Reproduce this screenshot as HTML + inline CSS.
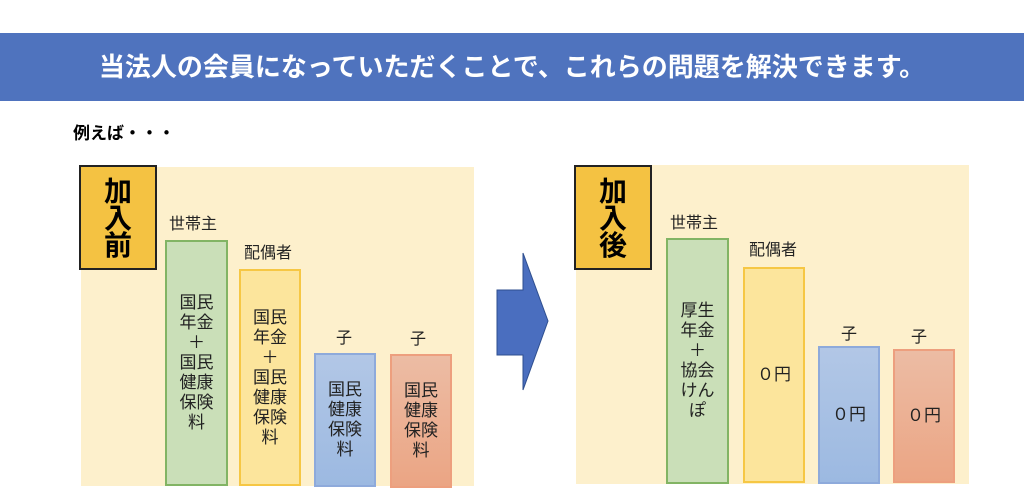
<!DOCTYPE html>
<html><head><meta charset="utf-8"><style>
body{margin:0;width:1024px;height:497px;background:#fff;position:relative;overflow:hidden;font-family:"Liberation Sans","Noto Sans CJK JP",sans-serif;}
div{position:absolute;box-sizing:border-box;}
.hdr{left:0;top:33px;width:1024px;height:68px;background:#4f73be;color:#fff;font-weight:bold;font-size:26px;line-height:68px;text-align:center;padding-left:0;}
.panel{background:#fdf0cc;}
.lbl{background:#f4c242;border:2px solid #222;font-weight:bold;font-size:28px;line-height:27px;text-align:center;padding-top:11px;}
.bar{border:2px solid;display:flex;align-items:center;justify-content:center;text-align:center;font-size:17px;line-height:20px;color:#222;}
.g{background:#cadfb8;border-color:#82b464;}
.y{background:#fce59c;border-color:#f6c744;}
.b{background:linear-gradient(#b2c7e6,#9cb9e1);border-color:#8eaadb;}
.r{background:linear-gradient(#ecbca4,#eba584);border-color:#ed9f7e;}
.t{font-size:16px;color:#222;white-space:nowrap;}
</style></head><body>
<div class="hdr">当法人の会員になっていただくことで、これらの問題を解決できます。</div>
<div style="left:73px;top:119px;font-size:17px;font-weight:bold;">例えば・・・</div>

<div class="panel" style="left:81px;top:167px;width:393px;height:319px;"></div>
<div class="lbl" style="left:79px;top:165px;width:78px;height:105px;">加<br>入<br>前</div>
<div class="t" style="left:169px;top:210px;">世帯主</div>
<div class="t" style="left:244px;top:239px;">配偶者</div>
<div class="t" style="left:336px;top:324px;">子</div>
<div class="t" style="left:410px;top:325px;">子</div>
<div class="bar g" style="left:165px;top:240px;width:63px;height:246px;">国民<br>年金<br>＋<br>国民<br>健康<br>保険<br>料</div>
<div class="bar y" style="left:239px;top:269px;width:62px;height:217px;">国民<br>年金<br>＋<br>国民<br>健康<br>保険<br>料</div>
<div class="bar b" style="left:314px;top:353px;width:62px;height:134px;">国民<br>健康<br>保険<br>料</div>
<div class="bar r" style="left:390px;top:354px;width:62px;height:134px;">国民<br>健康<br>保険<br>料</div>

<svg style="position:absolute;left:0;top:0" width="1024" height="497"><polygon points="497,290 523,290 523,253 548,321 523,390 523,355 497,355" fill="#4a6ebf" stroke="#2f4f8f" stroke-width="1"/></svg>

<div class="panel" style="left:576px;top:165px;width:393px;height:319px;"></div>
<div class="lbl" style="left:574px;top:165px;width:78px;height:105px;">加<br>入<br>後</div>
<div class="t" style="left:670px;top:209px;">世帯主</div>
<div class="t" style="left:749px;top:236px;">配偶者</div>
<div class="t" style="left:841px;top:320px;">子</div>
<div class="t" style="left:911px;top:323px;">子</div>
<div class="bar g" style="left:666px;top:238px;width:63px;height:246px;">厚生<br>年金<br>＋<br>協会<br>けん<br>ぽ</div>
<div class="bar y" style="left:743px;top:267px;width:62px;height:216px;">０円</div>
<div class="bar b" style="left:818px;top:346px;width:62px;height:138px;">０円</div>
<div class="bar r" style="left:893px;top:349px;width:62px;height:134px;">０円</div>
</body></html>
